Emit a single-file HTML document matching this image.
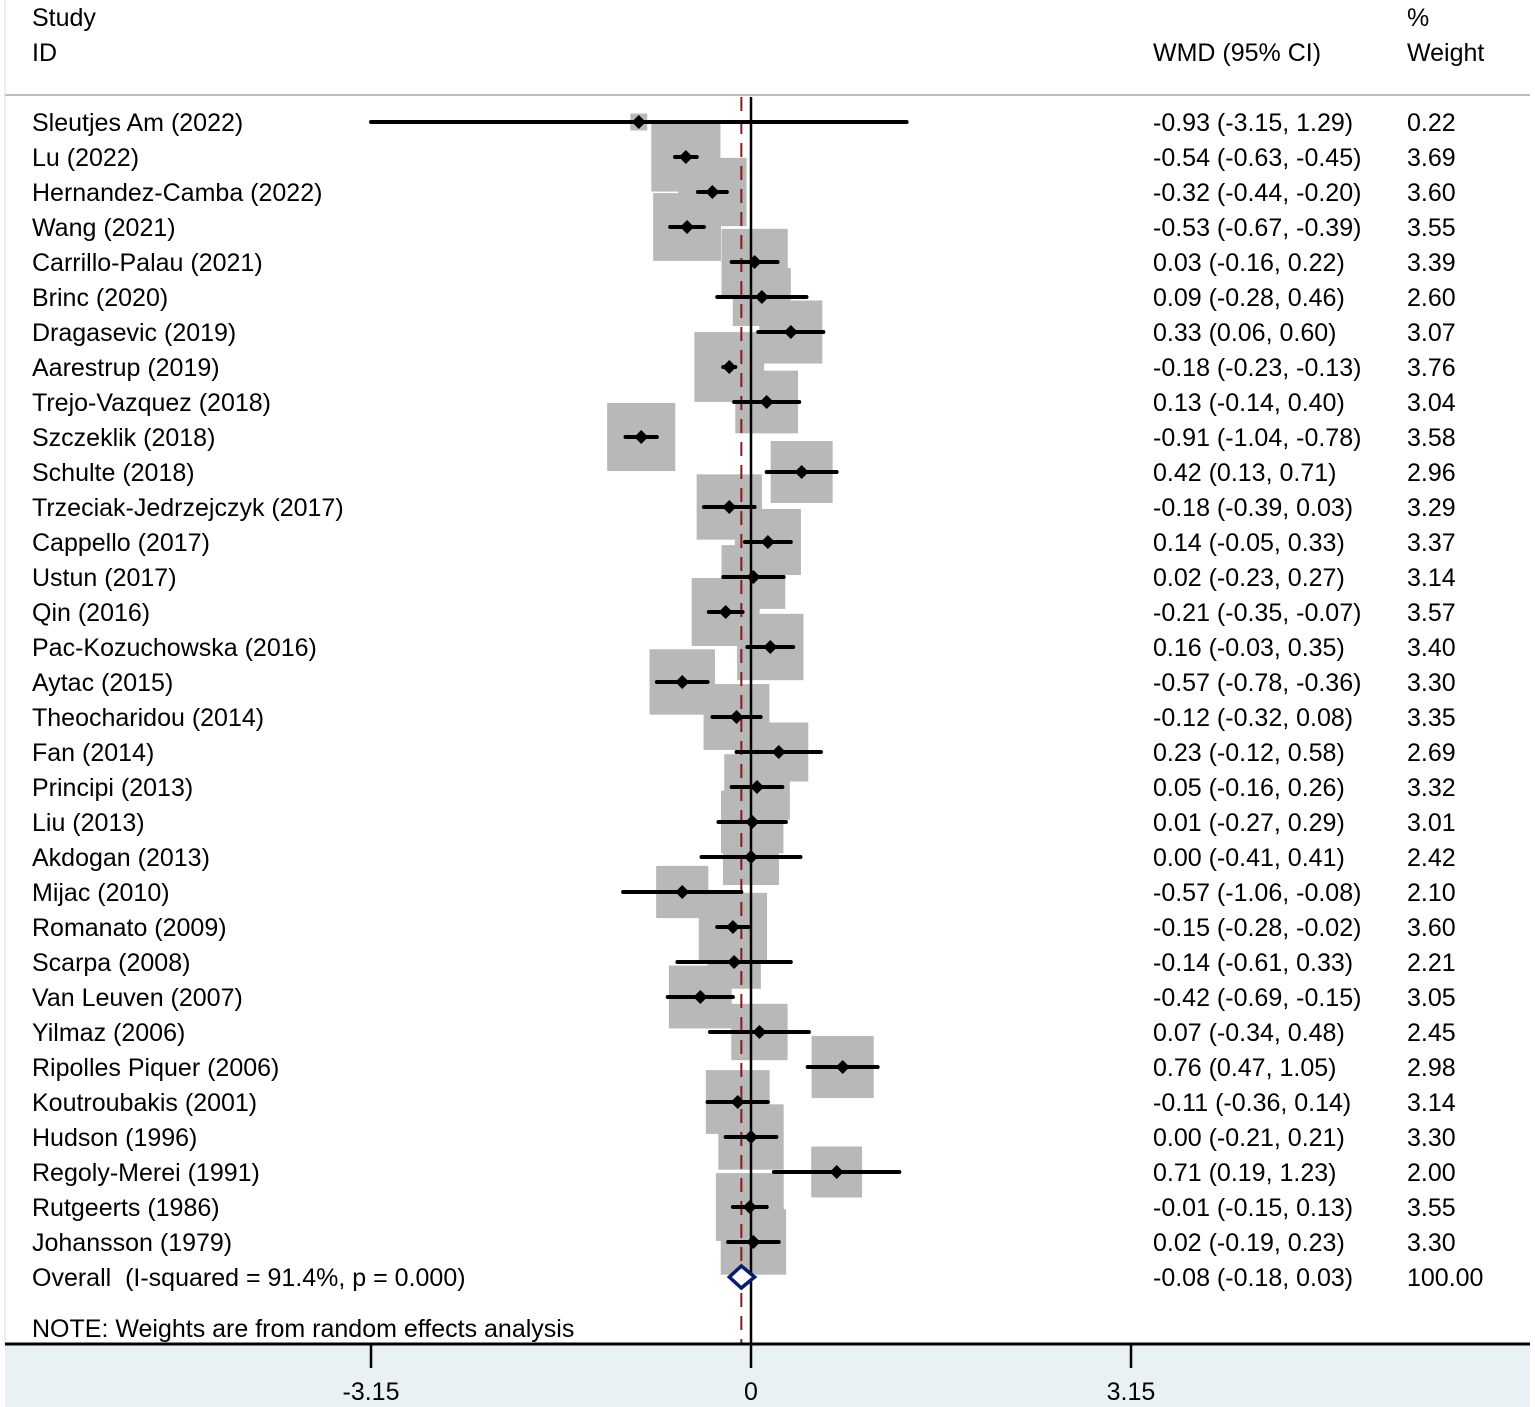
<!DOCTYPE html>
<html><head><meta charset="utf-8"><style>
html,body{margin:0;padding:0;background:#fff;}
svg{display:block;font-family:"Liberation Sans",Arial,sans-serif;}
</style></head><body>
<svg id="chart" width="1535" height="1407" viewBox="0 0 1535 1407">
<rect x="0" y="0" width="1535" height="1407" fill="#fff"/>
<rect x="5" y="1344" width="1525" height="63" fill="#e9f1f3"/>
<line x1="5" y1="95" x2="1530" y2="95" stroke="#bbb" stroke-width="2"/>
<line x1="5" y1="0" x2="5" y2="1344" stroke="#ddd" stroke-width="1"/>
<text x="32" y="26" font-size="25">Study</text>
<text x="32" y="61" font-size="25">ID</text>
<text x="1153" y="61" font-size="25">WMD (95% CI)</text>
<text x="1407" y="26" font-size="25">%</text>
<text x="1407" y="61" font-size="25">Weight</text>
<g id="plot"></g>
</svg>
<script>
const studies=["Sleutjes Am (2022)","Lu (2022)","Hernandez-Camba (2022)","Wang (2021)","Carrillo-Palau (2021)","Brinc (2020)","Dragasevic (2019)","Aarestrup (2019)","Trejo-Vazquez (2018)","Szczeklik (2018)","Schulte (2018)","Trzeciak-Jedrzejczyk (2017)","Cappello (2017)","Ustun (2017)","Qin (2016)","Pac-Kozuchowska (2016)","Aytac (2015)","Theocharidou (2014)","Fan (2014)","Principi (2013)","Liu (2013)","Akdogan (2013)","Mijac (2010)","Romanato (2009)","Scarpa (2008)","Van Leuven (2007)","Yilmaz (2006)","Ripolles Piquer (2006)","Koutroubakis (2001)","Hudson (1996)","Regoly-Merei (1991)","Rutgeerts (1986)","Johansson (1979)"];
const est=[-0.93,-0.54,-0.32,-0.53,0.03,0.09,0.33,-0.18,0.13,-0.91,0.42,-0.18,0.14,0.02,-0.21,0.16,-0.57,-0.12,0.23,0.05,0.01,0.00,-0.57,-0.15,-0.14,-0.42,0.07,0.76,-0.11,0.00,0.71,-0.01,0.02];
const lo=[-3.15,-0.63,-0.44,-0.67,-0.16,-0.28,0.06,-0.23,-0.14,-1.04,0.13,-0.39,-0.05,-0.23,-0.35,-0.03,-0.78,-0.32,-0.12,-0.16,-0.27,-0.41,-1.06,-0.28,-0.61,-0.69,-0.34,0.47,-0.36,-0.21,0.19,-0.15,-0.19];
const hi=[1.29,-0.45,-0.20,-0.39,0.22,0.46,0.60,-0.13,0.40,-0.78,0.71,0.03,0.33,0.27,-0.07,0.35,-0.36,0.08,0.58,0.26,0.29,0.41,-0.08,-0.02,0.33,-0.15,0.48,1.05,0.14,0.21,1.23,0.13,0.23];
const weights=[0.22,3.69,3.60,3.55,3.39,2.60,3.07,3.76,3.04,3.58,2.96,3.29,3.37,3.14,3.57,3.40,3.30,3.35,2.69,3.32,3.01,2.42,2.10,3.60,2.21,3.05,2.45,2.98,3.14,3.30,2.00,3.55,3.30];
const overall=[-0.08,-0.18,0.03];
const ticks=[-3.15,0,3.15];
const tickLabels=["-3.15","0","3.15"];

const X=v=>751+v*(380/3.15);
const Y=i=>122+i*35;
const NS="http://www.w3.org/2000/svg";
const g=document.getElementById('plot');
function mk(t,a){const e=document.createElementNS(NS,t);for(const k in a)e.setAttribute(k,a[k]);g.appendChild(e);return e;}
const f2=v=>(v<0?"-":"")+Math.abs(v).toFixed(2);
studies.forEach((s,i)=>{
  const side=36*Math.sqrt(weights[i]);
  const b=mk('rect',{x:X(est[i])-side/2,y:Y(i)-side/2,width:side,height:side,fill:'#b8b8b8'});
  
  
});
let l=mk('line',{x1:X(overall[0]),y1:97,x2:X(overall[0]),y2:1344,stroke:'#8b1a1a','stroke-width':2,'stroke-dasharray':'14,9'});


l=mk('line',{x1:X(0),y1:97,x2:X(0),y2:1344,stroke:'#000','stroke-width':2.5});


studies.forEach((s,i)=>{
  const y=Y(i);
  const ci=mk('line',{x1:X(lo[i]),y1:y,x2:X(hi[i]),y2:y,stroke:'#000','stroke-width':4,'stroke-linecap':'round'});
  
  
  const cx=X(est[i]);
  const p=mk('polygon',{points:`${cx-7},${y} ${cx},${y-7} ${cx+7},${y} ${cx},${y+7}`,fill:'#000'});
  
  
  let t=mk('text',{x:32,y:y+9,'font-size':25});t.textContent=s;
  
  
  t=mk('text',{x:1153,y:y+9,'font-size':25});t.textContent=`${f2(est[i])} (${f2(lo[i])}, ${f2(hi[i])})`;
  
  
  t=mk('text',{x:1407,y:y+9,'font-size':25});t.textContent=weights[i].toFixed(2);
  
  
});
const oy=Y(studies.length);
const d=mk('polygon',{points:`${X(overall[1])},${oy} ${X(overall[0])},${oy-11} ${X(overall[2])},${oy} ${X(overall[0])},${oy+11}`,fill:'#fff',stroke:'#0a1a6e','stroke-width':3.5});


let t=mk('text',{x:32,y:oy+9,'font-size':25});t.textContent="Overall\u00a0 (I-squared = 91.4%, p = 0.000)";


t=mk('text',{x:1153,y:oy+9,'font-size':25});t.textContent=`${f2(overall[0])} (${f2(overall[1])}, ${f2(overall[2])})`;


t=mk('text',{x:1407,y:oy+9,'font-size':25});t.textContent="100.00";


t=mk('text',{x:32,y:1337,'font-size':25});t.textContent="NOTE: Weights are from random effects analysis";


l=mk('line',{x1:5,y1:1344,x2:1530,y2:1344,stroke:'#000','stroke-width':3});


ticks.forEach((v,i)=>{
  const tk=mk('line',{x1:X(v),y1:1344,x2:X(v),y2:1368,stroke:'#000','stroke-width':2.5});
  
  
  const tl=mk('text',{x:X(v),y:1400,'font-size':25,'text-anchor':'middle'});tl.textContent=tickLabels[i];
  
  
});
</script>
</body></html>
